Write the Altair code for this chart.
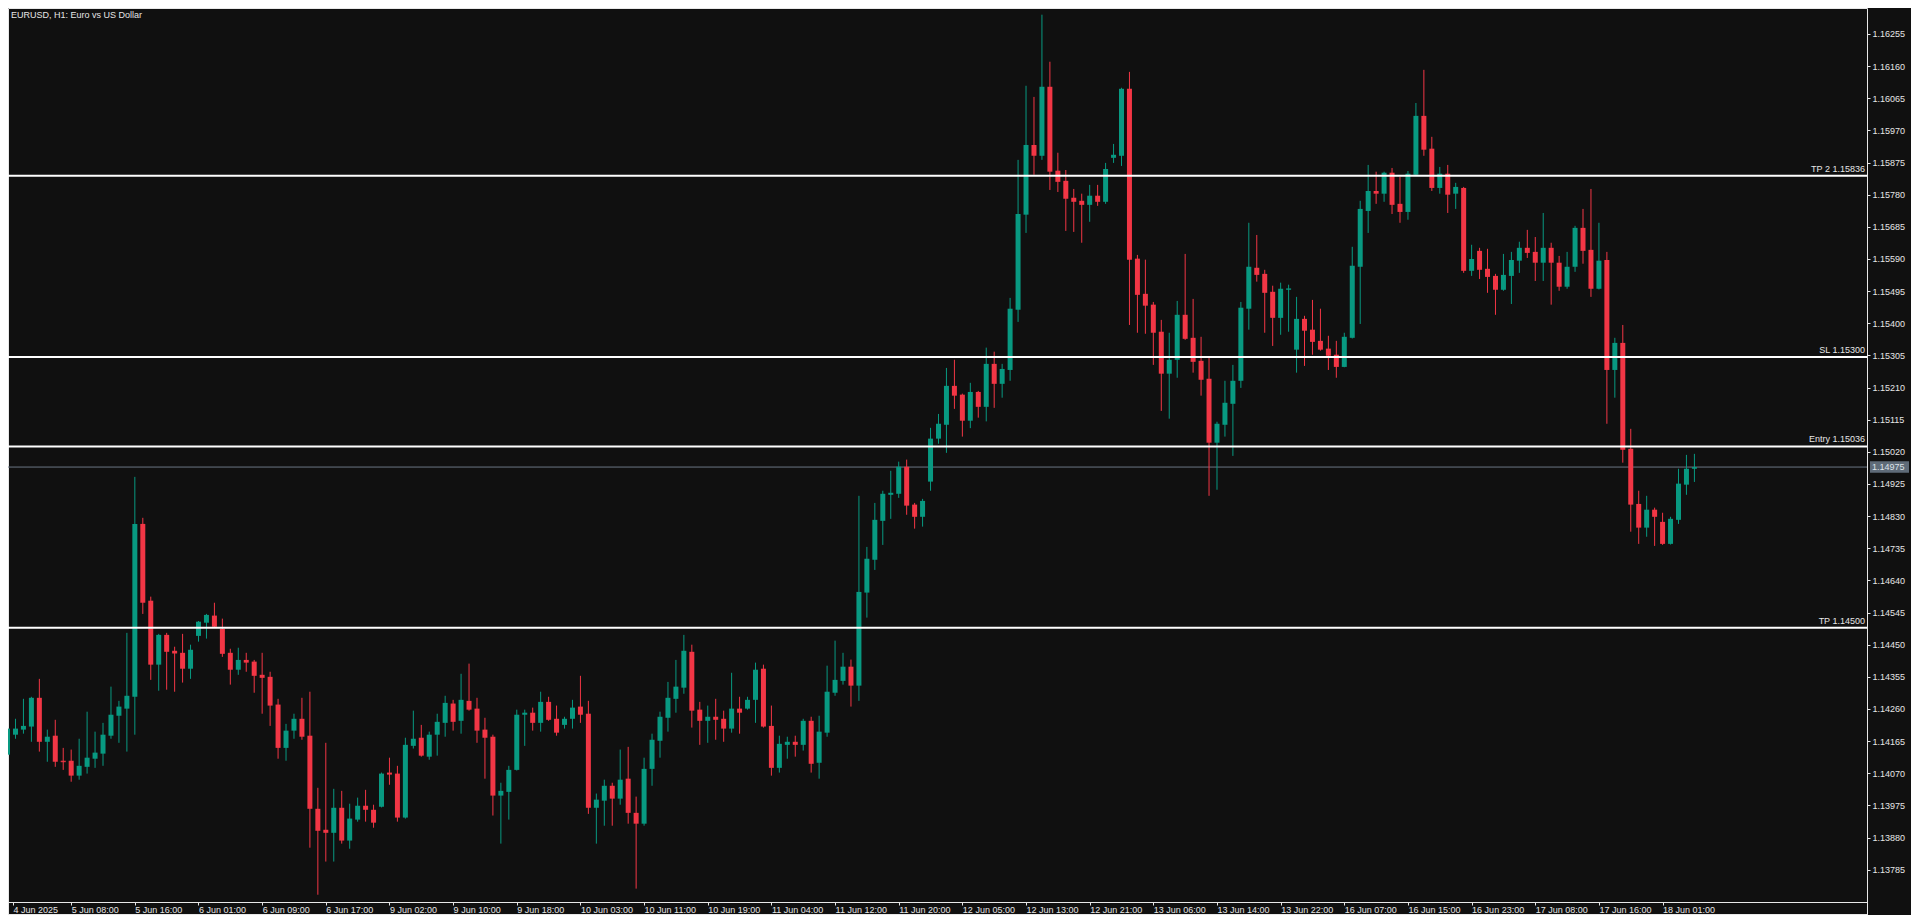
import json
import altair as alt
import pandas as pd

# ---------------- data (EURUSD H1) ----------------
opens = [1.14125,1.14184,1.14199,1.14208,1.14293,1.14163,1.14181,1.14107,1.14107,1.14063,
1.14089,1.14113,1.14128,1.14181,1.14240,1.14261,1.14296,1.14807,1.14580,1.14391,
1.14479,1.14432,1.14426,1.14379,1.14476,1.14515,1.14536,1.14497,1.14426,1.14376,
1.14405,1.14400,1.14361,1.14355,1.14273,1.14145,1.14196,1.14231,1.14181,1.13965,
1.13903,1.13894,1.13968,1.13871,1.13933,1.13974,1.13962,1.13971,1.14072,1.14069,
1.13939,1.14151,1.14175,1.14119,1.14184,1.14219,1.14276,1.14225,1.14284,1.14261,
1.14199,1.14178,1.14004,1.14015,1.14080,1.14243,1.14249,1.14219,1.14281,1.14231,
1.14213,1.14231,1.14267,1.14246,1.13968,1.13989,1.14033,1.13995,1.14054,1.13953,
1.13921,1.14083,1.14166,1.14234,1.14290,1.14323,1.14429,1.14258,1.14225,1.14237,
1.14231,1.14202,1.14261,1.14261,1.14287,1.14379,1.14210,1.14086,1.14154,1.14163,
1.14154,1.14225,1.14101,1.14190,1.14308,1.14343,1.14385,1.14329,1.14604,1.14701,
1.14816,1.14893,1.14896,1.14976,1.14864,1.14828,1.14932,1.15059,1.15100,1.15215,
1.15189,1.15112,1.15197,1.15153,1.15280,1.15221,1.15262,1.15440,1.15721,1.15927,
1.15895,1.16099,1.15851,1.15821,1.15771,1.15762,1.15750,1.15777,1.15759,1.15889,
1.15895,1.16093,1.15591,1.15487,1.15455,1.15375,1.15251,1.15292,1.15425,1.15357,
1.15289,1.15236,1.15047,1.15100,1.15162,1.15230,1.15443,1.15564,1.15546,1.15493,
1.15416,1.15499,1.15322,1.15413,1.15381,1.15348,1.15325,1.15307,1.15271,1.15357,
1.15567,1.15732,1.15791,1.15783,1.15845,1.15753,1.15729,1.15839,1.16013,1.15916,
1.15800,1.15842,1.15783,1.15800,1.15555,1.15614,1.15561,1.15540,1.15499,1.15540,
1.15585,1.15623,1.15611,1.15579,1.15623,1.15579,1.15508,1.15567,1.15682,1.15617,
1.15502,1.15587,1.15262,1.15342,1.15029,1.14866,1.14796,1.14849,1.14813,1.14748,
1.14819,1.14923,1.14970]

highs = [1.14208,1.14231,1.14290,1.14296,1.14349,1.14199,1.14228,1.14145,1.14140,1.14172,
1.14252,1.14193,1.14219,1.14326,1.14284,1.14485,1.14946,1.14825,1.14592,1.14482,
1.14485,1.14444,1.14482,1.14450,1.14520,1.14541,1.14574,1.14527,1.14438,1.14441,
1.14426,1.14405,1.14426,1.14370,1.14290,1.14216,1.14246,1.14293,1.14311,1.14027,
1.14160,1.14024,1.14018,1.13980,1.13998,1.14021,1.13977,1.14072,1.14116,1.14092,
1.14175,1.14255,1.14213,1.14193,1.14246,1.14299,1.14287,1.14364,1.14394,1.14293,
1.14234,1.14184,1.14042,1.14092,1.14258,1.14258,1.14264,1.14311,1.14296,1.14270,
1.14237,1.14287,1.14358,1.14284,1.14010,1.14051,1.14042,1.14140,1.14148,1.14001,
1.14116,1.14187,1.14252,1.14340,1.14405,1.14479,1.14450,1.14281,1.14270,1.14290,
1.14255,1.14367,1.14296,1.14296,1.14397,1.14391,1.14270,1.14181,1.14178,1.14181,
1.14231,1.14237,1.14240,1.14388,1.14462,1.14426,1.14406,1.14890,1.14739,1.14869,
1.14905,1.14964,1.14991,1.14997,1.14869,1.14881,1.15091,1.15132,1.15268,1.15292,
1.15192,1.15224,1.15200,1.15328,1.15316,1.15280,1.15475,1.15883,1.16102,1.16069,
1.16312,1.16173,1.15904,1.15853,1.15797,1.15783,1.15809,1.15809,1.15874,1.15930,
1.16096,1.16143,1.15602,1.15588,1.15463,1.15410,1.15372,1.15466,1.15605,1.15472,
1.15360,1.15298,1.15109,1.15230,1.15277,1.15463,1.15697,1.15661,1.15558,1.15511,
1.15520,1.15514,1.15478,1.15422,1.15469,1.15443,1.15363,1.15348,1.15372,1.15626,
1.15762,1.15868,1.15848,1.15848,1.15859,1.15833,1.15850,1.16051,1.16149,1.15951,
1.15862,1.15868,1.15815,1.15803,1.15632,1.15623,1.15620,1.15546,1.15605,1.15611,
1.15641,1.15676,1.15655,1.15726,1.15638,1.15599,1.15611,1.15688,1.15738,1.15797,
1.15697,1.15611,1.15357,1.15395,1.15088,1.14905,1.14890,1.14855,1.14840,1.14828,
1.14970,1.15011,1.15014]

lows = [1.14120,1.14172,1.14187,1.14163,1.14134,1.14104,1.14089,1.14080,1.14045,1.14051,
1.14069,1.14086,1.14092,1.14172,1.14160,1.14134,1.14184,1.14541,1.14346,1.14314,
1.14317,1.14311,1.14338,1.14349,1.14459,1.14468,1.14500,1.14414,1.14332,1.14361,
1.14370,1.14308,1.14246,1.14210,1.14113,1.14107,1.14172,1.14169,1.13850,1.13711,
1.13809,1.13809,1.13862,1.13847,1.13927,1.13927,1.13909,1.13969,1.14036,1.13927,
1.13936,1.14143,1.14119,1.14110,1.14122,1.14178,1.14196,1.14187,1.14255,1.14160,
1.14054,1.13945,1.13862,1.13933,1.14078,1.14151,1.14196,1.14193,1.14225,1.14181,
1.14202,1.14202,1.14219,1.13950,1.13862,1.13915,1.13915,1.13977,1.13921,1.13729,
1.13915,1.14033,1.14116,1.14193,1.14249,1.14305,1.14205,1.14154,1.14160,1.14169,
1.14163,1.14190,1.14187,1.14258,1.14219,1.14205,1.14063,1.14072,1.14113,1.14119,
1.14137,1.14072,1.14054,1.14178,1.14299,1.14332,1.14267,1.14284,1.14530,1.14671,
1.14745,1.14822,1.14884,1.14834,1.14793,1.14799,1.14905,1.15044,1.15017,1.15147,
1.15065,1.15090,1.15121,1.15110,1.15150,1.15180,1.15230,1.15404,1.15667,1.15839,
1.15883,1.15794,1.15788,1.15673,1.15670,1.15638,1.15700,1.15747,1.15753,1.15874,
1.15865,1.15395,1.15372,1.15369,1.15277,1.15141,1.15118,1.15239,1.15351,1.15254,
1.15186,1.14890,1.14908,1.15065,1.15008,1.15209,1.15381,1.15523,1.15372,1.15333,
1.15366,1.15375,1.15254,1.15274,1.15307,1.15319,1.15262,1.15239,1.15270,1.15355,
1.15398,1.15667,1.15753,1.15759,1.15723,1.15697,1.15706,1.15836,1.15895,1.15791,
1.15783,1.15726,1.15738,1.15549,1.15540,1.15531,1.15490,1.15425,1.15496,1.15457,
1.15549,1.15593,1.15525,1.15525,1.15455,1.15496,1.15502,1.15552,1.15576,1.15478,
1.15500,1.15103,1.15180,1.14988,1.14784,1.14748,1.14769,1.14742,1.14745,1.14746,
1.14807,1.14893,1.14931]

closes = [1.14202,1.14202,1.14210,1.14293,1.14163,1.14178,1.14104,1.14104,1.14063,1.14092,
1.14116,1.14131,1.14184,1.14243,1.14267,1.14299,1.14807,1.14574,1.14391,1.14479,
1.14429,1.14424,1.14379,1.14435,1.14518,1.14538,1.14503,1.14423,1.14376,1.14405,
1.14397,1.14358,1.14352,1.14270,1.14145,1.14196,1.14231,1.14178,1.13965,1.13900,
1.13894,1.13968,1.13871,1.13936,1.13974,1.13962,1.13924,1.14069,1.14066,1.13939,
1.14154,1.14172,1.14122,1.14184,1.14222,1.14278,1.14222,1.14287,1.14258,1.14196,
1.14175,1.14004,1.14018,1.14080,1.14243,1.14249,1.14219,1.14281,1.14228,1.14190,
1.14231,1.14264,1.14243,1.13968,1.13992,1.14033,1.13995,1.14051,1.13953,1.13921,
1.14083,1.14169,1.14237,1.14293,1.14326,1.14432,1.14255,1.14225,1.14237,1.14228,
1.14202,1.14261,1.14249,1.14287,1.14376,1.14208,1.14086,1.14157,1.14163,1.14154,
1.14225,1.14098,1.14193,1.14311,1.14346,1.14385,1.14329,1.14606,1.14704,1.14819,
1.14896,1.14899,1.14976,1.14861,1.14828,1.14875,1.15059,1.15103,1.15215,1.15186,
1.15112,1.15197,1.15153,1.15280,1.15221,1.15265,1.15443,1.15723,1.15927,1.15895,
1.16099,1.15848,1.15818,1.15768,1.15759,1.15750,1.15777,1.15759,1.15856,1.15898,
1.16093,1.15588,1.15484,1.15452,1.15372,1.15251,1.15292,1.15425,1.15354,1.15286,
1.15233,1.15047,1.15103,1.15165,1.15230,1.15446,1.15567,1.15543,1.15490,1.15416,
1.15502,1.15503,1.15413,1.15378,1.15345,1.15322,1.15304,1.15271,1.15360,1.15570,
1.15738,1.15791,1.15783,1.15845,1.15750,1.15729,1.15842,1.16013,1.15913,1.15800,
1.15842,1.15780,1.15803,1.15555,1.15590,1.15558,1.15537,1.15499,1.15543,1.15587,
1.15623,1.15608,1.15579,1.15623,1.15579,1.15508,1.15567,1.15682,1.15614,1.15502,
1.15585,1.15262,1.15342,1.15026,1.14864,1.14796,1.14849,1.14828,1.14748,1.14822,
1.14926,1.14970,1.14975]

x_labels = ["4 Jun 2025", "5 Jun 08:00", "5 Jun 16:00", "6 Jun 01:00", "6 Jun 09:00",
            "6 Jun 17:00", "9 Jun 02:00", "9 Jun 10:00", "9 Jun 18:00", "10 Jun 03:00",
            "10 Jun 11:00", "10 Jun 19:00", "11 Jun 04:00", "11 Jun 12:00", "11 Jun 20:00",
            "12 Jun 05:00", "12 Jun 13:00", "12 Jun 21:00", "13 Jun 06:00", "13 Jun 14:00",
            "13 Jun 22:00", "16 Jun 07:00", "16 Jun 15:00", "16 Jun 23:00", "17 Jun 08:00",
            "17 Jun 16:00", "18 Jun 01:00"]
bars_per_label = 8

y_ticks = [1.16255, 1.16160, 1.16065, 1.15970, 1.15875, 1.15780, 1.15685, 1.15590, 1.15495,
           1.15400, 1.15305, 1.15210, 1.15115, 1.15020, 1.14925, 1.14830, 1.14735, 1.14640,
           1.14545, 1.14450, 1.14355, 1.14260, 1.14165, 1.14070, 1.13975, 1.13880, 1.13785]

level_names = ["TP 2", "SL", "Entry", "TP"]
level_prices = [1.15836, 1.15300, 1.15036, 1.14500]
last_price = 1.14975
title_text = "EURUSD, H1:  Euro vs US Dollar"

# ---------------- styling ----------------
BG = "#101010"
GREEN = "#089981"
RED = "#f23645"
FG = "#e6e6e6"
FONT = "Liberation Sans"
FS = 9
W, H = 1859, 894
X_DOM = [0.6875, 0.6875 + W / 8.0]
Y_DOM = [1.136895, 1.163318]

df = pd.DataFrame({"i": list(range(len(opens))), "open": opens, "high": highs,
                   "low": lows, "close": closes})
df["dir"] = ["up" if c >= o else "down" for o, c in zip(opens, closes)]

xscale = alt.Scale(domain=X_DOM, nice=False, zero=False)
yscale = alt.Scale(domain=Y_DOM, nice=False, zero=False)
color = alt.Color("dir:N", scale=alt.Scale(domain=["up", "down"], range=[GREEN, RED]), legend=None)

tick_vals = [X_DOM[0]] + [k * bars_per_label for k in range(1, len(x_labels))]
x_axis = alt.Axis(values=tick_vals,
                  labelExpr=json.dumps(x_labels) + "[round(datum.value / 8)]",
                  labelAlign="left", labelBaseline="alphabetic", labelPadding=7,
                  tickSize=3, tickColor=FG, labelColor=FG, labelFont=FONT, labelFontSize=FS,
                  domain=False, grid=False, title=None, labelOverlap=False, labelFlush=False,
                  labelBound=False)
y_axis = alt.Axis(orient="right", values=y_ticks, format=".5f", tickSize=3, labelPadding=2,
                  tickColor=FG, labelColor=FG, labelFont=FONT, labelFontSize=FS,
                  labelBaseline="middle", domain=False, grid=False, title=None,
                  labelOverlap=False, labelFlush=False, labelBound=False)


def X(field):
    return alt.X(field, scale=xscale, axis=x_axis)


def Y(field):
    return alt.Y(field, scale=yscale, axis=y_axis)


base = alt.Chart(df)

last_df = pd.DataFrame({"p": [last_price], "t": [f"{last_price:.5f}"]})
last_line = alt.Chart(last_df).mark_rule(color="#6a7683", strokeWidth=1).encode(y=Y("p:Q"))

wicks = base.mark_rule(strokeWidth=1, clip=True).encode(
    x=X("i:Q"), y=Y("low:Q"), y2="high:Q", color=color)

bodies = base.mark_bar(size=5, clip=True).encode(
    x=X("i:Q"), y=Y("open:Q"), y2="close:Q", color=color)

doji = base.transform_filter("abs(datum.open - datum.close) < 0.00004").mark_tick(
    orient="horizontal", size=5, thickness=1, clip=True).encode(
    x=X("i:Q"), y=Y("close:Q"), color=color)

lv_df = pd.DataFrame({"name": level_names, "p": level_prices})
lv_df["label"] = [f"{n} {p:.5f}" for n, p in zip(level_names, level_prices)]
level_lines = alt.Chart(lv_df).mark_rule(color="#ffffff", strokeWidth=2).encode(y=Y("p:Q"))
level_text = alt.Chart(lv_df).mark_text(align="right", baseline="bottom", dy=-2,
                                        font=FONT, fontSize=FS, color=FG).encode(
    x=alt.value(W - 2), y=Y("p:Q"), text="label:N")

price_box = alt.Chart(last_df).transform_calculate(
    top="datum.p + 0.00017", bot="datum.p - 0.00017").mark_rect(color="#5f6b78").encode(
    x=alt.value(W + 3), x2=alt.value(W + 42), y=Y("top:Q"), y2="bot:Q")
price_text = alt.Chart(last_df).mark_text(align="left", baseline="middle", font=FONT,
                                          fontSize=FS, color="#dde2e8").encode(
    x=alt.value(W + 5), y=Y("p:Q"), text="t:N")

one = pd.DataFrame({"t": [title_text]})
title = alt.Chart(one).mark_text(align="left", baseline="top", font=FONT, fontSize=FS,
                                 color=FG).encode(
    x=alt.value(3), y=alt.value(3), text="t:N")

frame_bottom = alt.Chart(one).mark_rule(color="#e8e8e8", strokeWidth=1).encode(
    x=alt.value(0), x2=alt.value(W), y=alt.value(H + 12.5))
frame_right = alt.Chart(one).mark_rule(color="#e8e8e8", strokeWidth=1).encode(
    x=alt.value(W + 0.5), y=alt.value(H), y2=alt.value(H + 13))
frame_left = alt.Chart(one).mark_rule(color="#e8e8e8", strokeWidth=1).encode(
    x=alt.value(0.5), y=alt.value(H), y2=alt.value(H + 13))

chart = alt.layer(
    last_line, wicks, bodies, doji, level_lines, level_text, price_box, price_text,
    title, frame_bottom, frame_right, frame_left
).properties(
    width=W, height=H,
    autosize=alt.AutoSizeParams(type="none"),
    padding={"left": 0, "top": 0, "right": 44, "bottom": 13},
    background=BG,
).configure_view(stroke="#e8e8e8", strokeWidth=1, fill=BG)

chart.save("out.html", embed_options={"renderer": "svg", "actions": False})
